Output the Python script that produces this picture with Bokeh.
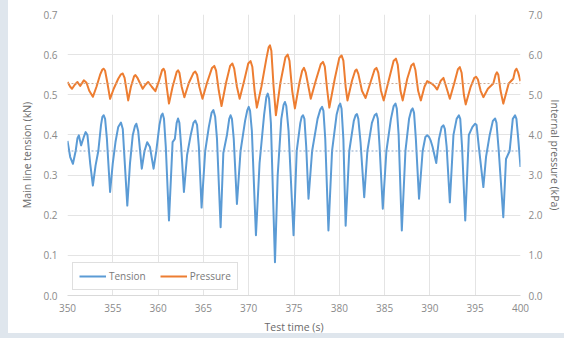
from bokeh.plotting import figure
from bokeh.models import Range1d, LinearAxis, Span, Legend, LegendItem, FixedTicker, NumeralTickFormatter
from bokeh.embed import file_html
from bokeh.resources import INLINE

# ---- data ----
tension_t = [350.0, 350.3, 350.6, 350.9, 351.1, 351.25, 351.5, 351.8, 352.0, 352.2, 352.5, 352.8, 353.1, 353.4,
             353.7, 353.85, 354.0, 354.15, 354.35, 354.7, 355.0, 355.3, 355.6, 355.9, 356.1, 356.6, 356.9, 357.2,
             357.45, 357.6, 357.8, 358.2, 358.5, 358.8, 359.1, 359.5, 359.8, 360.15, 360.35, 360.5, 360.65, 360.85,
             361.2, 361.6, 361.85, 362.05, 362.2, 362.35, 362.55, 362.85, 363.2, 363.6, 363.9, 364.1, 364.3, 364.5,
             364.8, 365.2, 365.6, 365.9, 366.1, 366.3, 366.5, 366.9, 367.2, 367.6, 367.85, 368.0, 368.15, 368.35,
             368.7, 369.1, 369.6, 369.85, 370.0, 370.15, 370.35, 370.8, 371.2, 371.7, 371.95, 372.1, 372.25, 372.45,
             372.9, 373.2, 373.6, 373.85, 374.0, 374.15, 374.4, 374.95, 375.3, 375.7, 375.85, 376.0, 376.15, 376.35,
             376.6, 377.0, 377.6, 377.9, 378.1, 378.25, 378.45, 378.8, 379.2, 379.7, 379.95, 380.1, 380.25, 380.45,
             380.7, 381.1, 381.6, 381.8, 381.95, 382.1, 382.35, 382.75, 383.1, 383.6, 383.9, 384.1, 384.25, 384.45,
             384.8, 385.2, 385.7, 386.0, 386.2, 386.35, 386.55, 386.9, 387.3, 387.7, 387.95, 388.1, 388.25, 388.45,
             388.8, 389.2, 389.5, 389.7, 389.9, 390.1, 390.3, 390.7, 391.0, 391.3, 391.5, 391.65, 391.85, 392.2,
             392.6, 392.95, 393.2, 393.35, 393.55, 393.9, 394.3, 394.7, 395.0, 395.15, 395.4, 395.9, 396.2, 396.6,
             396.95, 397.2, 397.35, 397.6, 398.1, 398.4, 398.8, 399.15, 399.4, 399.55, 399.75, 400.0]
tension_kn = [0.385, 0.345, 0.328, 0.36, 0.392, 0.399, 0.374, 0.395, 0.407, 0.40, 0.33, 0.274, 0.324, 0.36,
              0.425, 0.445, 0.449, 0.44, 0.39, 0.258, 0.33, 0.383, 0.42, 0.431, 0.415, 0.224, 0.33, 0.399,
              0.422, 0.428, 0.41, 0.316, 0.36, 0.382, 0.37, 0.316, 0.36, 0.425, 0.448, 0.453, 0.44, 0.37,
              0.187, 0.382, 0.39, 0.43, 0.441, 0.43, 0.37, 0.258, 0.35, 0.40, 0.43, 0.436, 0.425, 0.37,
              0.219, 0.36, 0.42, 0.455, 0.462, 0.445, 0.39, 0.170, 0.355, 0.40, 0.44, 0.449, 0.44, 0.39,
              0.228, 0.36, 0.435, 0.462, 0.470, 0.46, 0.41, 0.150, 0.33, 0.45, 0.495, 0.503, 0.49, 0.43,
              0.083, 0.30, 0.44, 0.475, 0.482, 0.472, 0.41, 0.150, 0.36, 0.43, 0.445, 0.449, 0.44, 0.37,
              0.241, 0.36, 0.44, 0.463, 0.470, 0.46, 0.39, 0.162, 0.36, 0.45, 0.472, 0.478, 0.465, 0.39,
              0.174, 0.36, 0.435, 0.449, 0.452, 0.44, 0.38, 0.245, 0.36, 0.43, 0.449, 0.453, 0.44, 0.37,
              0.216, 0.36, 0.44, 0.472, 0.478, 0.465, 0.40, 0.162, 0.36, 0.44, 0.462, 0.466, 0.455, 0.39,
              0.241, 0.36, 0.395, 0.399, 0.395, 0.385, 0.37, 0.330, 0.39, 0.42, 0.424, 0.415, 0.37, 0.232,
              0.40, 0.44, 0.449, 0.44, 0.37, 0.187, 0.40, 0.42, 0.428, 0.425, 0.37, 0.270, 0.346, 0.40,
              0.435, 0.441, 0.43, 0.36, 0.195, 0.34, 0.36, 0.44, 0.449, 0.44, 0.39, 0.32]

pressure_t = [350.0, 350.3, 350.5, 350.8, 351.1, 351.4, 351.8, 352.1, 352.4, 352.8, 353.2, 353.6, 353.85, 354.0,
              354.15, 354.4, 354.7, 355.1, 355.6, 355.9, 356.1, 356.3, 356.7, 357.0, 357.35, 357.5, 357.7, 358.3,
              358.6, 358.9, 359.3, 359.7, 360.1, 360.45, 360.6, 360.75, 360.95, 361.2, 361.6, 362.05, 362.2, 362.35,
              362.6, 362.9, 363.4, 363.9, 364.1, 364.3, 364.55, 364.9, 365.4, 365.95, 366.2, 366.4, 366.7, 367.0,
              367.5, 367.95, 368.2, 368.4, 368.7, 369.0, 369.5, 369.95, 370.2, 370.4, 370.65, 370.9, 371.4, 371.95,
              372.2, 372.35, 372.5, 372.75, 373.0, 373.5, 374.05, 374.3, 374.5, 374.8, 375.1, 375.6, 375.9, 376.1,
              376.3, 376.85, 377.4, 377.95, 378.2, 378.4, 378.65, 378.9, 379.5, 380.0, 380.25, 380.45, 380.7, 380.9,
              381.4, 381.75, 381.9, 382.1, 382.5, 382.9, 383.5, 383.9, 384.1, 384.3, 384.6, 384.9, 385.5, 386.0,
              386.25, 386.45, 386.75, 387.0, 387.5, 387.95, 388.2, 388.4, 388.7, 389.0, 389.4, 389.7, 390.2, 390.5,
              390.8, 391.2, 391.5, 391.8, 392.2, 392.7, 393.1, 393.3, 393.5, 393.75, 393.95, 394.5, 394.9, 395.1,
              395.3, 395.6, 395.9, 396.4, 397.0, 397.25, 397.4, 397.55, 397.8, 398.1, 398.7, 399.2, 399.4, 399.55,
              399.75, 400.0]
pressure_mpa = [5.32, 5.20, 5.15, 5.25, 5.32, 5.22, 5.36, 5.30, 5.10, 4.95, 5.20, 5.50, 5.63, 5.65,
                5.60, 5.30, 4.90, 5.15, 5.40, 5.51, 5.53, 5.42, 4.86, 5.20, 5.46, 5.49, 5.43, 5.15,
                5.25, 5.32, 5.20, 5.09, 5.35, 5.62, 5.65, 5.58, 5.20, 4.78, 5.20, 5.57, 5.61, 5.55,
                5.20, 4.94, 5.30, 5.54, 5.58, 5.50, 5.20, 4.90, 5.30, 5.67, 5.72, 5.60, 5.10, 4.72,
                5.30, 5.72, 5.78, 5.65, 5.20, 4.90, 5.35, 5.78, 5.84, 5.70, 5.10, 4.68, 5.20, 5.90,
                6.18, 6.23, 6.10, 5.20, 4.49, 5.30, 5.93, 6.00, 5.85, 5.10, 4.66, 5.30, 5.60, 5.67,
                5.55, 4.90, 5.35, 5.76, 5.82, 5.70, 5.15, 4.68, 5.40, 5.92, 5.98, 5.85, 5.20, 4.86,
                5.35, 5.60, 5.63, 5.52, 5.10, 4.92, 5.35, 5.63, 5.67, 5.55, 5.10, 4.86, 5.40, 5.85,
                5.90, 5.75, 5.10, 4.86, 5.40, 5.73, 5.78, 5.62, 5.10, 4.86, 5.20, 5.34, 5.28, 5.22,
                5.13, 5.35, 5.42, 5.20, 4.90, 5.30, 5.64, 5.69, 5.55, 5.00, 4.76, 5.20, 5.42, 5.45,
                5.38, 5.10, 4.94, 5.15, 5.28, 5.50, 5.56, 5.50, 5.10, 4.78, 5.28, 5.40, 5.60, 5.65,
                5.55, 5.34]

tension_mean = 0.36
pressure_mean = 5.28

x_ticks = [350, 355, 360, 365, 370, 375, 380, 385, 390, 395, 400]
left_ticks = [0.0, 0.1, 0.2, 0.3, 0.4, 0.5, 0.6, 0.7]
right_ticks = [0, 1, 2, 3, 4, 5, 6, 7]

FONT = "Open Sans"
BLUE = "#5b9bd5"
ORANGE = "#ed7d31"

p = figure(width=556, height=330, output_backend="svg", toolbar_location=None,
           x_range=Range1d(350, 400), y_range=Range1d(0, 0.7),
           min_border_left=59, min_border_right=42, min_border_top=6, min_border_bottom=43)
p.outline_line_color = None
p.background_fill_color = "white"
p.border_fill_alpha = 0.0
p.extra_y_ranges = {"p": Range1d(0, 7)}

# grids
p.xgrid.ticker = FixedTicker(ticks=x_ticks)
p.ygrid.ticker = FixedTicker(ticks=left_ticks)
p.xgrid.grid_line_color = "#e4e4e4"
p.ygrid.grid_line_color = "#e4e4e4"

def style_axis(ax):
    ax.major_tick_line_color = None
    ax.minor_tick_line_color = None
    ax.major_tick_in = 0
    ax.major_tick_out = 0
    ax.major_label_text_font = FONT
    ax.major_label_text_font_size = "10px"
    ax.major_label_text_color = "#8a8a8a"
    ax.axis_label_text_font = FONT
    ax.axis_label_text_font_size = "10.5px"
    ax.axis_label_text_font_style = "normal"
    ax.axis_label_text_color = "#6a6a6a"

# bottom axis
xa = p.xaxis[0]
xa.ticker = FixedTicker(ticks=x_ticks)
xa.axis_label = "Test time (s)"
style_axis(xa)
xa.axis_line_color = "#d9d9d9"
xa.major_label_standoff = 8
xa.axis_label_standoff = 5

# left axis
ya = p.yaxis[0]
ya.ticker = FixedTicker(ticks=left_ticks)
ya.formatter = NumeralTickFormatter(format="0.0")
ya.axis_label = "Main line tension (kN)"
style_axis(ya)
ya.axis_line_color = None
ya.major_label_standoff = 10
ya.axis_label_standoff = 6

# right axis
ra = LinearAxis(y_range_name="p", ticker=FixedTicker(ticks=right_ticks),
                formatter=NumeralTickFormatter(format="0.0"), axis_label="Internal pressure (kPa)")
style_axis(ra)
ra.axis_line_color = None
ra.major_label_standoff = 8
ra.axis_label_standoff = 2
p.add_layout(ra, "right")

# mean lines
p.add_layout(Span(location=tension_mean, dimension="width", line_color="#8aa6c8",
                  line_width=1, line_dash="2 2"))
p.add_layout(Span(location=pressure_mean, dimension="width", line_color="#c9a892",
                  line_width=1, line_dash="2 2", y_range_name="p"))

r_t = p.line(tension_t, tension_kn, line_color=BLUE, line_width=2, line_join="round")
r_p = p.line(pressure_t, pressure_mpa, line_color=ORANGE, line_width=2, line_join="round",
             y_range_name="p")

legend = Legend(items=[LegendItem(label="Tension", renderers=[r_t]),
                       LegendItem(label="Pressure", renderers=[r_p])],
                location=(5, 5), orientation="horizontal")
legend.label_text_font = FONT
legend.label_text_font_size = "10px"
legend.label_text_color = "#7a7a7a"
legend.glyph_width = 27
legend.glyph_height = 10
legend.label_height = 10
legend.label_standoff = 3
legend.spacing = 14
legend.padding = 6
legend.margin = 0
legend.border_line_color = "#bfbfbf"
legend.background_fill_color = "white"
legend.background_fill_alpha = 1.0
p.add_layout(legend, "center")

html = file_html(p, INLINE)
css = ("<style>body { padding: 8px !important; margin: 0 !important; box-sizing: border-box !important; "
       "background: linear-gradient(to right, #dfe6ed 8px, rgba(0,0,0,0) 8px), "
       "linear-gradient(to bottom, #ffffff 333px, #dfe6ed 333px) !important; }</style>")
html = html.replace("</head>", css + "</head>", 1)
open("out.html", "w").write(html)
